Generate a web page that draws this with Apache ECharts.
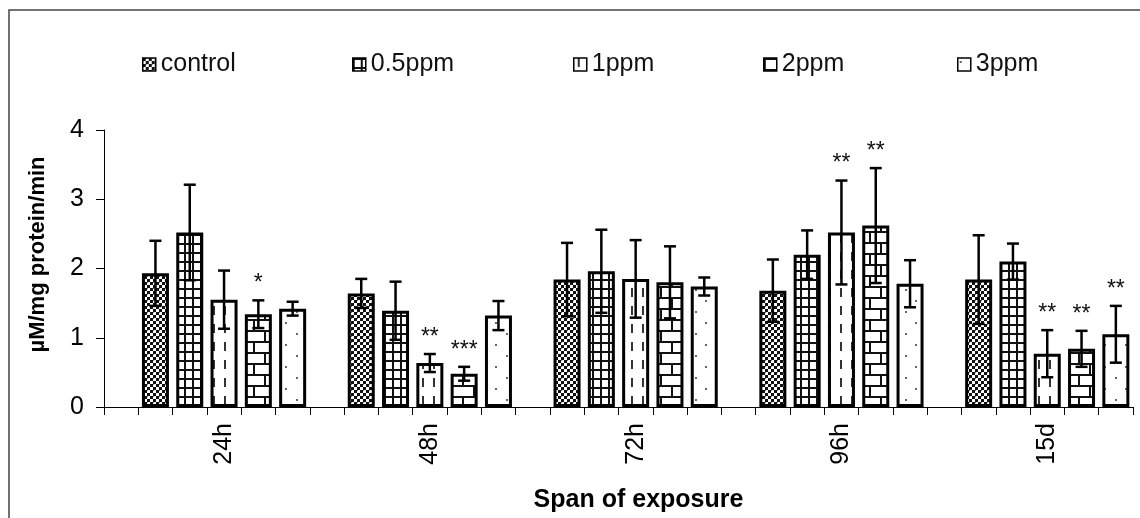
<!DOCTYPE html>
<html>
<head>
<meta charset="utf-8">
<script src="https://cdn.jsdelivr.net/npm/echarts@6/dist/echarts.min.js"></script>
<style>html,body{margin:0;padding:0;background:#fff}#c{width:1140px;height:518px}</style>
</head>
<body>
<div id="c"></div>
<script>
// ---- data ----
const categories = ['24h', '48h', '72h', '96h', '15d'];
const seriesNames = ['control', '0.5ppm', '1ppm', '2ppm', '3ppm'];
const yTicks = [0, 1, 2, 3, 4];

const controlMean = [1.93, 1.64, 1.84, 1.68, 1.84];
const ppm05Mean   = [2.52, 1.39, 1.96, 2.20, 2.10];
const ppm1Mean    = [1.55, 0.635, 1.85, 2.52, 0.77];
const ppm2Mean    = [1.34, 0.48, 1.80, 2.62, 0.84];
const ppm3Mean    = [1.42, 1.32, 1.74, 1.78, 1.05];

const controlSD = [0.47, 0.21, 0.53, 0.45, 0.64];
const ppm05SD   = [0.69, 0.42, 0.60, 0.35, 0.26];
const ppm1SD    = [0.42, 0.13, 0.56, 0.75, 0.34];
const ppm2SD    = [0.20, 0.10, 0.52, 0.83, 0.26];
const ppm3SD    = [0.10, 0.21, 0.13, 0.34, 0.41];

const controlSig = ['', '', '', '', ''];
const ppm05Sig   = ['', '', '', '', ''];
const ppm1Sig    = ['', '**', '', '**', '**'];
const ppm2Sig    = ['*', '***', '', '**', '**'];
const ppm3Sig    = ['', '', '', '', '**'];

const means = [controlMean, ppm05Mean, ppm1Mean, ppm2Mean, ppm3Mean];
const sds = [controlSD, ppm05SD, ppm1SD, ppm2SD, ppm3SD];
const sigs = [controlSig, ppm05Sig, ppm1Sig, ppm2Sig, ppm3Sig];

// ---- layout: each group = 1 empty slot + 5 bars ----
const SLOTS_PER_GROUP = 6;
const slotCount = categories.length * SLOTS_PER_GROUP;
const slotIds = [];
const slotLabels = [];
for (let i = 0; i < slotCount; i++) {
  slotIds.push('s' + i);
  slotLabels.push(i % SLOTS_PER_GROUP === 3 ? categories[Math.floor(i / SLOTS_PER_GROUP)] : '');
}

// ---- patterns ----
function makePattern(w, h, draw) {
  const c = document.createElement('canvas');
  c.width = w; c.height = h;
  const ctx = c.getContext('2d');
  ctx.fillStyle = '#fff';
  ctx.fillRect(0, 0, w, h);
  draw(ctx);
  return { image: c, repeat: 'repeat' };
}
const patterns = [
  makePattern(6, 6, ctx => {           // checker
    ctx.fillStyle = '#111';
    ctx.fillRect(0, 0, 3, 3);
    ctx.fillRect(3, 3, 3, 3);
    ctx.fillStyle = '#777';
    ctx.fillRect(3, 0, 1, 1);
  }),
  makePattern(8, 9, ctx => {           // grid
    ctx.fillStyle = '#111';
    ctx.fillRect(0, 0, 2, 9);
    ctx.fillRect(0, 0, 8, 2);
  }),
  makePattern(11, 18, ctx => {         // vertical dashes
    ctx.fillStyle = '#333';
    ctx.fillRect(4, 0, 2, 9);
  }),
  makePattern(22, 22, ctx => {         // bricks
    ctx.fillStyle = '#111';
    ctx.fillRect(0, 0, 22, 2);
    ctx.fillRect(0, 11, 22, 2);
    ctx.fillRect(0, 0, 2, 11);
    ctx.fillRect(11, 11, 2, 11);
  }),
  makePattern(21, 22, ctx => {         // dots
    ctx.fillStyle = '#666';
    ctx.fillRect(2, 3, 2, 2);
    ctx.fillRect(12, 14, 2, 2);
  })
];

const FONT = "'Liberation Sans', Arial, sans-serif";

const barSeries = seriesNames.map((name, k) => {
  const data = new Array(slotCount).fill(null);
  categories.forEach((c, g) => { data[g * SLOTS_PER_GROUP + k + 1] = means[k][g]; });
  return {
    name: name,
    type: 'bar',
    data: data,
    barWidth: 27,
    barGap: '-100%',
    itemStyle: { color: patterns[k], borderColor: '#000', borderWidth: 3 },
    z: 2
  };
});

const errSeries = seriesNames.map((name, k) => ({
  type: 'custom',
  data: categories.map((c, g) => [g * SLOTS_PER_GROUP + k + 1, means[k][g], sds[k][g]]),
  z: 5,
  silent: true,
  renderItem: function (params, api) {
    const x = api.value(0), m = api.value(1), sd = api.value(2);
    const top = api.coord([x, m + sd]);
    const bot = api.coord([x, m - sd]);
    const cx = top[0];
    const cap = 6;
    const st = { stroke: '#000', lineWidth: 2.5 };
    const children = [
      { type: 'line', shape: { x1: cx, y1: top[1], x2: cx, y2: bot[1] }, style: st },
      { type: 'line', shape: { x1: cx - cap, y1: top[1], x2: cx + cap, y2: top[1] }, style: st },
      { type: 'line', shape: { x1: cx - cap, y1: bot[1], x2: cx + cap, y2: bot[1] }, style: st }
    ];
    const s = sigs[k][params.dataIndex];
    if (s) {
      children.push({
        type: 'text',
        style: { text: s, x: cx, y: top[1] - 5, textAlign: 'center', textVerticalAlign: 'bottom',
                 fontSize: 23, fontFamily: FONT, fill: '#111' }
      });
    }
    return { type: 'group', children: children };
  }
}));

const legendLeft = [137, 347, 568, 758, 952];
const legends = seriesNames.map((name, k) => ({
  data: [name],
  left: legendLeft[k],
  top: 47,
  icon: 'rect',
  itemWidth: 13,
  itemHeight: 13,
  selectedMode: false,
  itemStyle: { borderWidth: 1.5, borderColor: '#000' },
  textStyle: { fontSize: 25, color: '#111', fontFamily: FONT }
}));

const chart = echarts.init(document.getElementById('c'), null, { renderer: 'canvas' });
chart.setOption({
  backgroundColor: '#fff',
  animation: false,
  legend: legends,
  grid: { left: 104, right: 7, top: 130, bottom: 109 },
  xAxis: {
    type: 'category',
    data: slotIds,
    axisLine: { lineStyle: { color: '#000', width: 1 } },
    axisTick: { show: true, interval: 0, length: 8, lineStyle: { color: '#000' } },
    axisLabel: {
      interval: 0, rotate: 90, margin: 16, fontSize: 25, color: '#000', fontFamily: FONT,
      formatter: (v, i) => slotLabels[i]
    },
    name: 'Span of exposure',
    nameLocation: 'middle',
    nameGap: 81,
    nameTextStyle: { fontSize: 25, fontWeight: 'bold', color: '#000', fontFamily: FONT, padding: [0, 0, 0, 40] }
  },
  yAxis: {
    type: 'value',
    min: yTicks[0],
    max: yTicks[yTicks.length - 1],
    interval: 1,
    splitLine: { show: false },
    axisLine: { show: true, lineStyle: { color: '#000', width: 1 } },
    axisTick: { show: true, length: 8, lineStyle: { color: '#000' } },
    axisLabel: { margin: 20, fontSize: 25, color: '#000', fontFamily: FONT },
    name: 'µM/mg protein/min',
    nameLocation: 'middle',
    nameRotate: 90,
    nameGap: 55,
    nameTextStyle: { fontSize: 22, fontWeight: 'bold', color: '#000', fontFamily: FONT, padding: [0, 0, 0, 28] }
  },
  graphic: [{
    type: 'rect',
    shape: { x: 9, y: 10, width: 1200, height: 600 },
    style: { fill: 'none', stroke: '#444', lineWidth: 1.5 },
    silent: true,
    z: -1
  }],
  series: barSeries.concat(errSeries)
});
</script>
</body>
</html>
